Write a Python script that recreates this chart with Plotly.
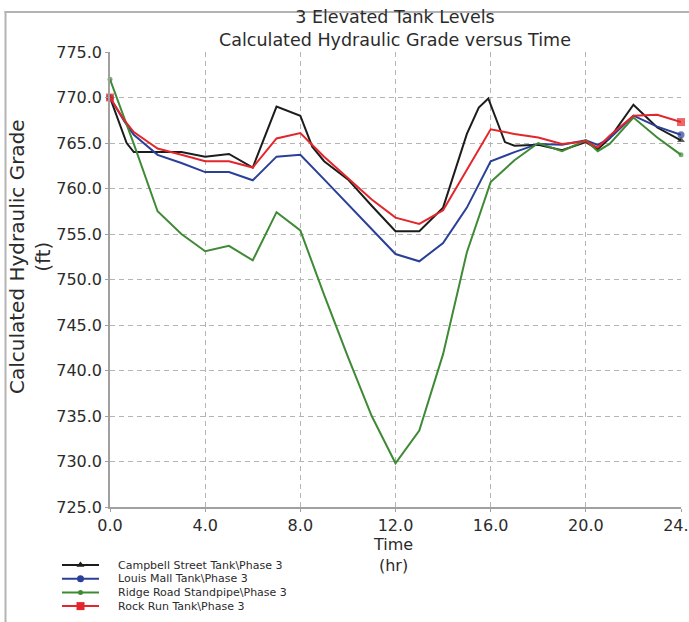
import plotly.graph_objects as go

W, H = 689, 622

# ---- hydraulic grade time series (hr, ft) ----
campbell_hr = [0, 0.7, 1, 2, 3, 4, 5, 6, 7, 8, 8.5, 9, 10, 11, 12, 13, 14, 15,
               15.5, 15.9, 16.6, 17, 18, 19, 20, 20.5, 21, 22, 23, 24]
campbell_hgl = [770.0, 765.0, 764.0, 764.0, 764.0, 763.5, 763.8, 762.3, 769.0, 768.0,
                764.6, 763.0, 761.0, 758.1, 755.3, 755.3, 757.9, 766.0,
                768.9, 769.9, 765.1, 764.7, 764.8, 764.2, 765.1, 764.3, 765.5, 769.2, 766.7, 765.3]

louis_hr = [0, 0.6, 1, 2, 3, 4, 5, 6, 7, 8, 9, 10, 11, 12, 13, 14, 15, 16, 17, 18, 19,
            20, 20.5, 21, 22, 23, 24]
louis_hgl = [770.0, 767.4, 765.9, 763.7, 762.8, 761.8, 761.8, 760.9, 763.5, 763.7,
             761.0, 758.3, 755.5, 752.8, 752.0, 754.0, 757.9, 763.0, 764.0, 764.9, 764.8,
             765.3, 764.8, 765.5, 768.0, 766.8, 765.9]

ridge_hr = [0, 1, 2, 3, 4, 5, 6, 7, 8, 9, 10, 11, 12, 13, 14, 15, 16, 17, 18, 19,
            20, 20.5, 21, 22, 23, 24]
ridge_hgl = [772.0, 764.9, 757.5, 755.0, 753.1, 753.7, 752.1, 757.4, 755.4, 748.3,
             741.5, 735.0, 729.8, 733.4, 741.8, 753.0, 760.7, 763.1, 765.0, 764.1,
             765.3, 764.1, 764.9, 767.8, 765.6, 763.7]

rock_hr = [0, 0.6, 1, 2, 3, 4, 5, 6, 7, 8, 9, 10, 11, 12, 13, 14, 15, 16, 17, 18, 19,
           20, 20.5, 21, 22, 23, 24]
rock_hgl = [770.0, 767.5, 766.2, 764.4, 763.7, 763.0, 763.0, 762.3, 765.5, 766.1,
            763.5, 761.1, 758.8, 756.8, 756.1, 757.6, 762.0, 766.5, 766.0, 765.6, 764.9,
            765.2, 764.5, 765.8, 768.0, 768.1, 767.3]

series_names = [
    "Campbell Street Tank\\Phase 3",
    "Louis Mall Tank\\Phase 3",
    "Ridge Road Standpipe\\Phase 3",
    "Rock Run Tank\\Phase 3",
]

x_ticks = [0, 4, 8, 12, 16, 20, 24]
y_ticks = [725, 730, 735, 740, 745, 750, 755, 760, 765, 770, 775]

# ---- styling ----
FONT = "DejaVu Sans"
TXT = "#2b2b2b"
styles = [
    dict(color="#1c1c1c", symbol="triangle-up", size=7),
    dict(color="#2a3f98", symbol="circle", size=7),
    dict(color="#3f8a35", symbol="circle", size=5),
    dict(color="#e3262b", symbol="square", size=8),
]
data = [(campbell_hr, campbell_hgl), (louis_hr, louis_hgl),
        (ridge_hr, ridge_hgl), (rock_hr, rock_hgl)]

fig = go.Figure()

for (hrs, vals), st, name in zip(data, styles, series_names):
    n = len(hrs)
    sizes = [st["size"] if i in (0, n - 1) else 0 for i in range(n)]
    fig.add_trace(go.Scatter(
        x=hrs, y=vals, name=name, mode="lines+markers",
        line=dict(color=st["color"], width=2),
        marker=dict(symbol=st["symbol"], size=sizes, color=st["color"], line=dict(width=0)),
        showlegend=False, hoverinfo="x+y+name", cliponaxis=False,
    ))

# ---- hand-laid legend on an overlay axis measured in pixels ----
leg_y0, leg_dy = 565, 13.7
for i, (st, name) in enumerate(zip(styles, series_names)):
    yy = leg_y0 + i * leg_dy
    fig.add_trace(go.Scatter(
        x=[62, 99], y=[yy, yy], mode="lines", line=dict(color=st["color"], width=2),
        xaxis="x2", yaxis="y2", showlegend=False, hoverinfo="skip",
    ))
    fig.add_trace(go.Scatter(
        x=[80.5], y=[yy], mode="markers",
        marker=dict(symbol=st["symbol"], size=st["size"], color=st["color"], line=dict(width=0)),
        xaxis="x2", yaxis="y2", showlegend=False, hoverinfo="skip",
    ))
    fig.add_annotation(x=117, y=yy, xref="x2", yref="y2", text=name, showarrow=False,
                       xanchor="left", yanchor="middle", borderpad=0,
                       font=dict(family=FONT, size=11, color=TXT))

grid = dict(showgrid=True, gridcolor="#b4b4b4", gridwidth=1, griddash="5px,4px")

FRAME_COLOR = "#b3b3b3"

fig.update_layout(
    template="none",
    width=W, height=H,
    margin=dict(l=0, r=0, t=0, b=0, pad=0),
    paper_bgcolor="white", plot_bgcolor="rgba(0,0,0,0)",
    showlegend=False,
    xaxis=dict(
        domain=[110 / W, 681 / W], range=[0, 24], tickvals=x_ticks,
        ticktext=[f"{v:.1f}" for v in x_ticks], automargin=False,
        ticklabeloverflow="allow",
        showline=True, linecolor="#a0a0a0", linewidth=1.5, mirror=False,
        ticks="outside", ticklen=3, tickcolor="#a0a0a0",
        tickfont=dict(family=FONT, size=16, color=TXT),
        zeroline=False, **grid,
    ),
    yaxis=dict(
        domain=[1 - 507 / H, 1 - 52 / H], range=[725, 775], tickvals=y_ticks,
        ticktext=[f"{v:.1f}" for v in y_ticks], automargin=False,
        ticklabeloverflow="allow",
        showline=True, linecolor="#a0a0a0", linewidth=1.5,
        ticks="outside", ticklen=3, tickcolor="#a0a0a0",
        tickfont=dict(family=FONT, size=16, color=TXT),
        zeroline=False, **grid,
    ),
    xaxis2=dict(domain=[0, 1], range=[0, W], visible=False, anchor="y2", automargin=False),
    yaxis2=dict(domain=[0, 1], range=[H, 0], visible=False, anchor="x2", automargin=False),
    shapes=[
        # page frame: thin filled bands along the left and top edges
        dict(type="rect", xref="x2", yref="y2", x0=4.5, x1=6.5, y0=11, y1=H,
             fillcolor=FRAME_COLOR, line=dict(width=0), layer="above"),
        dict(type="rect", xref="x2", yref="y2", x0=4.5, x1=W, y0=11, y1=13,
             fillcolor=FRAME_COLOR, line=dict(width=0), layer="above"),
    ],
)

# titles
fig.add_annotation(x=395 / W, y=1 - 29 / H, xref="paper", yref="paper",
                   text="3 Elevated Tank Levels<br>Calculated Hydraulic Grade versus Time",
                   showarrow=False, xanchor="center", yanchor="middle",
                   font=dict(family=FONT, size=17.5, color=TXT))
fig.add_annotation(x=393 / W, y=1 - 555 / H, xref="paper", yref="paper",
                   text="Time<br>(hr)", showarrow=False, xanchor="center", yanchor="middle",
                   font=dict(family=FONT, size=16, color=TXT))
fig.add_annotation(x=30 / W, y=1 - 257 / H, xref="paper", yref="paper",
                   text="Calculated Hydraulic Grade<br>(ft)", textangle=-90,
                   showarrow=False, xanchor="center", yanchor="middle",
                   font=dict(family=FONT, size=20, color=TXT))

fig.write_html("out.html")
